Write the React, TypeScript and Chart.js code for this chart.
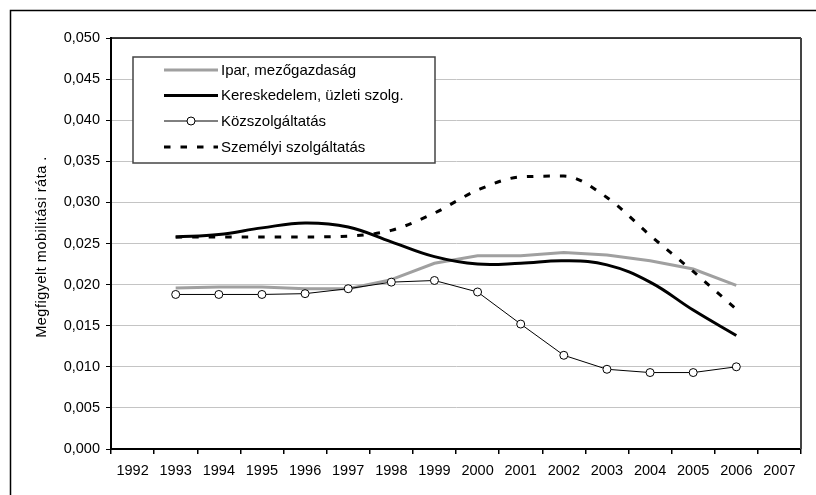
import React, { useEffect, useRef } from "react";
import { Chart, registerables } from "chart.js";

Chart.register(...registerables);

const years = ["1992", "1993", "1994", "1995", "1996", "1997", "1998", "1999", "2000", "2001", "2002", "2003", "2004", "2005", "2006", "2007"];
const ipar = [null, 0.0196, 0.0197, 0.0197, 0.0195, 0.0195, 0.0206, 0.0226, 0.0235, 0.0235, 0.0239, 0.0236, 0.0229, 0.0219, 0.0199, null];
const kereskedelem = [null, 0.0258, 0.0261, 0.0269, 0.0275, 0.027, 0.0252, 0.0234, 0.0225, 0.0226, 0.0229, 0.0224, 0.0203, 0.0169, 0.0138, null];
const kozszolg = [null, 0.0188, 0.0188, 0.0188, 0.0189, 0.0195, 0.0203, 0.0205, 0.0191, 0.0152, 0.0114, 0.0097, 0.0093, 0.0093, 0.01, null];
const szemelyi = [null, 0.0258, 0.0258, 0.0258, 0.0258, 0.0259, 0.0266, 0.0287, 0.0315, 0.0331, 0.0332, 0.0306, 0.026, 0.0216, 0.017, null];
const seriesNames = ["Ipar, mezőgazdaság", "Kereskedelem, üzleti szolg.", "Közszolgáltatás", "Személyi szolgáltatás"];
const yTitle = "Megfigyelt mobilitási ráta .";

const FONT = "'Liberation Sans', Arial, sans-serif";
const DASH = [6.5, 10];

const framePlugin = {
  id: "frame",
  beforeDraw(chart: any) {
    const ctx = chart.ctx;
    ctx.save();
    ctx.fillStyle = "#fff";
    ctx.fillRect(0, 0, chart.width, chart.height);
    ctx.strokeStyle = "#000";
    ctx.lineWidth = 1.5;
    ctx.beginPath();
    ctx.moveTo(10.5, chart.height + 5);
    ctx.lineTo(10.5, 10.5);
    ctx.lineTo(chart.width + 5, 10.5);
    ctx.stroke();
    // y title
    ctx.translate(42, 247);
    ctx.rotate(-Math.PI / 2);
    ctx.fillStyle = "#000";
    ctx.font = `14.5px ${FONT}`;
    (ctx as any).letterSpacing = "0.5px";
    ctx.textAlign = "center";
    ctx.textBaseline = "middle";
    ctx.fillText(yTitle, 0, 0);
    ctx.restore();
  },
  afterDraw(chart: any) {
    const ctx = chart.ctx;
    const a = chart.chartArea;
    ctx.save();
    ctx.strokeStyle = "#000";
    ctx.lineWidth = 1.5;
    ctx.beginPath();
    ctx.moveTo(a.left, a.top);
    ctx.lineTo(a.right, a.top);
    ctx.stroke();
    ctx.strokeStyle = "#444";
    ctx.lineWidth = 2;
    ctx.beginPath();
    ctx.moveTo(a.right, a.top);
    ctx.lineTo(a.right, a.bottom);
    ctx.stroke();

    // legend
    const bx = 133, by = 57, bw = 302, bh = 106;
    ctx.fillStyle = "#fff";
    ctx.fillRect(bx, by, bw, bh);
    ctx.strokeStyle = "#444";
    ctx.lineWidth = 1.5;
    ctx.strokeRect(bx, by, bw, bh);
    const rows = [70, 95.5, 121, 147];
    const x0 = 164, x1 = 218;
    const styles = [
      { color: "#a0a0a0", width: 3, dash: [] as number[], point: false },
      { color: "#000", width: 3, dash: [] as number[], point: false },
      { color: "#000", width: 1, dash: [] as number[], point: true },
      { color: "#000", width: 3, dash: DASH, point: false },
    ];
    styles.forEach((s, i) => {
      const y = rows[i];
      ctx.strokeStyle = s.color;
      ctx.lineWidth = s.width;
      ctx.setLineDash(s.dash);
      ctx.beginPath();
      ctx.moveTo(x0, y);
      ctx.lineTo(x1, y);
      ctx.stroke();
      ctx.setLineDash([]);
      if (s.point) {
        ctx.beginPath();
        ctx.arc((x0 + x1) / 2, y, 4, 0, Math.PI * 2);
        ctx.fillStyle = "#fff";
        ctx.fill();
        ctx.lineWidth = 1;
        ctx.strokeStyle = "#000";
        ctx.stroke();
      }
      ctx.fillStyle = "#000";
      ctx.font = `15px ${FONT}`;
      ctx.textAlign = "left";
      ctx.textBaseline = "middle";
      ctx.fillText(seriesNames[i], 221, y + 0.5);
    });
    ctx.restore();
  },
};

export default function App() {
  const ref = useRef<HTMLCanvasElement>(null);
  useEffect(() => {
    if (!ref.current) return;
    const chart = new Chart(ref.current, {
      type: "line",
      data: {
        labels: years,
        datasets: [
          {
            label: seriesNames[0],
            data: ipar,
            borderColor: "#a0a0a0",
            borderWidth: 3,
            pointRadius: 0,
            tension: 0,
            order: 4,
          },
          {
            label: seriesNames[1],
            data: kereskedelem,
            borderColor: "#000",
            borderWidth: 3,
            pointRadius: 0,
            tension: 0.4,
            order: 3,
          },
          {
            label: seriesNames[2],
            data: kozszolg,
            borderColor: "#000",
            borderWidth: 1,
            pointRadius: 4,
            pointBackgroundColor: "#fff",
            pointBorderColor: "#000",
            pointBorderWidth: 1,
            tension: 0,
            order: 2,
          },
          {
            label: seriesNames[3],
            data: szemelyi,
            borderColor: "#000",
            borderWidth: 3,
            borderDash: DASH,
            pointRadius: 0,
            cubicInterpolationMode: "monotone",
            order: 1,
          },
        ] as any,
      },
      options: {
        responsive: false,
        animation: false,
        devicePixelRatio: 1,
        layout: { padding: { left: 0, right: 15, top: 38, bottom: 0 } },
        plugins: { legend: { display: false }, tooltip: { enabled: false } },
        scales: {
          x: {
            type: "category",
            offset: true,
            grid: { offset: true, drawOnChartArea: false, drawTicks: true, tickLength: 5, tickColor: "#000", lineWidth: 1.5 },
            border: { color: "#000", width: 2 },
            ticks: { color: "#000", font: { family: FONT, size: 14.5 }, padding: 8, maxRotation: 0, autoSkip: false },
            afterFit: (s: any) => { s.height = 46; },
          },
          y: {
            min: 0,
            max: 0.05,
            grid: { color: "#c4c4c4", lineWidth: 1, tickColor: "#000", tickLength: 5 },
            border: { color: "#000", width: 2 },
            ticks: {
              stepSize: 0.005,
              color: "#000",
              font: { family: FONT, size: 14.5 },
              padding: 6,
              callback: (v: any) => Number(v).toFixed(3).replace(".", ","),
            },
            afterFit: (s: any) => { s.width = 111; },
          },
        },
      },
      plugins: [framePlugin],
    });
    return () => chart.destroy();
  }, []);
  return (
    <div style={{ position: "absolute", left: 0, top: 0, width: 816, height: 495, background: "#fff" }}>
      <canvas ref={ref} width={816} height={495} />
    </div>
  );
}
